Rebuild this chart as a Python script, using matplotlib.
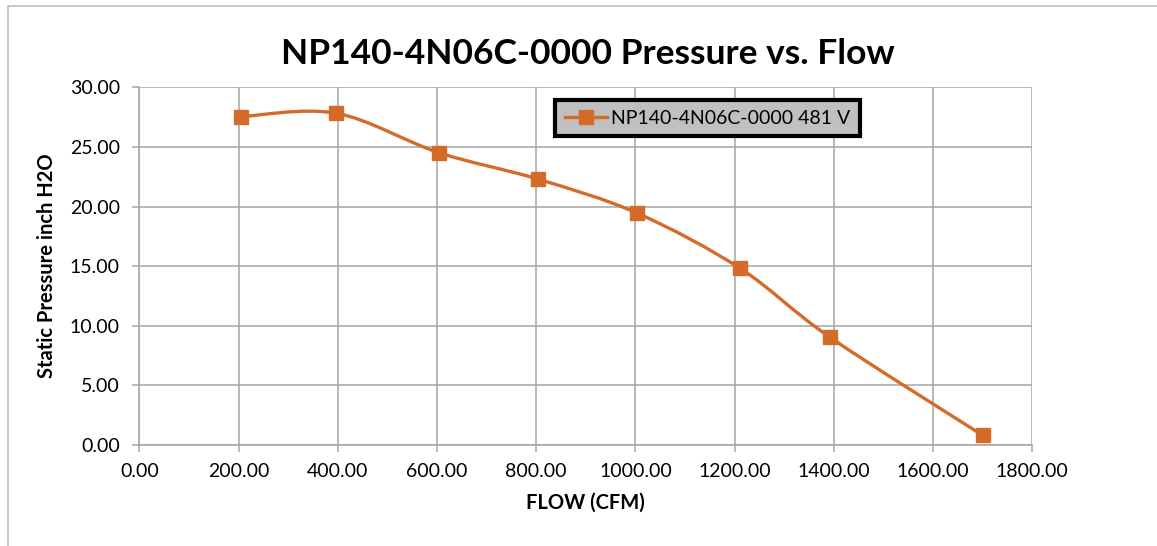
import matplotlib
matplotlib.use("Agg")
import matplotlib.pyplot as plt
import numpy as np
from matplotlib.path import Path
from matplotlib.patches import PathPatch, Rectangle
from matplotlib.lines import Line2D

flow = [204, 397, 604, 804, 1004, 1211, 1392, 1700]
pressure = [27.54, 27.83, 24.52, 22.30, 19.44, 14.82, 9.04, 0.81]
series_name = "NP140-4N06C-0000 481 V"
x_ticks = [0, 200, 400, 600, 800, 1000, 1200, 1400, 1600, 1800]
y_ticks = [0, 5, 10, 15, 20, 25, 30]

ORANGE = "#D46B29"
GRID = "#A6A6A6"
plt.rcParams["font.family"] = ["Lato", "DejaVu Sans"]


def smooth_path(xs, ys, tension=1 / 6):
	# Catmull-Rom style bezier, like Excel's smoothed line
	pts = np.column_stack([xs, ys]).astype(float)
	verts = [pts[0]]
	codes = [Path.MOVETO]
	n = len(pts)
	for i in range(n - 1):
		p0 = pts[max(i - 1, 0)]
		p1 = pts[i]
		p2 = pts[i + 1]
		p3 = pts[min(i + 2, n - 1)]
		c1 = p1 + (p2 - p0) * tension
		c2 = p2 - (p3 - p1) * tension
		verts += [c1, c2, p2]
		codes += [Path.CURVE4] * 3
	return Path(verts, codes)


fig = plt.figure(figsize=(11.57, 5.46), dpi=100)
fig.patches.append(Rectangle((8 / 1157, -0.1), 1.2, 1 - 6 / 546 + 0.1, transform=fig.transFigure,
	fill=False, edgecolor="#BFBFBF", linewidth=1.2))

ax = fig.add_axes([0.1204, 0.185, 0.7718, 0.655])
ax.set_xlim(0, 1800)
ax.set_ylim(0, 30)
ax.set_xticks(x_ticks)
ax.set_yticks(y_ticks)
ax.set_xticklabels([f"{v:.2f}" for v in x_ticks])
ax.set_yticklabels([f"{v:.2f}" for v in y_ticks])
ax.grid(True, color=GRID, linewidth=1.1)
ax.set_axisbelow(True)
for side in ["top", "right"]:
	ax.spines[side].set_visible(False)
for side in ["left", "bottom"]:
	ax.spines[side].set_color(GRID)
	ax.spines[side].set_linewidth(1.1)
ax.tick_params(axis="both", color=GRID, length=5, width=1.1, labelsize=14)
ax.tick_params(axis="x", pad=8)
ax.tick_params(axis="y", pad=9)

ax.add_patch(PathPatch(smooth_path(flow, pressure), facecolor="none", edgecolor=ORANGE,
	linewidth=2.4, zorder=3))
ax.plot(flow, pressure, linestyle="none", marker="s", markersize=10, color=ORANGE, zorder=4)

ax.set_xlabel("FLOW (CFM)", fontsize=14.5, fontweight="bold", labelpad=9)
ax.set_ylabel("Static Pressure inch H2O", fontsize=14.5, fontweight="bold", labelpad=9)
fig.text(0.508, 0.902, "NP140-4N06C-0000 Pressure vs. Flow", ha="center", va="center",
	fontsize=25.5, fontweight="bold")

handle = Line2D([], [], color=ORANGE, linewidth=2.4, marker="s", markersize=10)
leg = ax.legend([handle], [series_name], loc="upper left", bbox_to_anchor=(0.4655, 0.965),
	borderaxespad=0, fontsize=14, frameon=True, fancybox=False, borderpad=0.5,
	handlelength=2.2, handletextpad=0.2)
frame = leg.get_frame()
frame.set_facecolor("#C0C0C0")
frame.set_edgecolor("black")
frame.set_linewidth(3)
frame.set_alpha(1)

fig.savefig("out.png", dpi=100)
